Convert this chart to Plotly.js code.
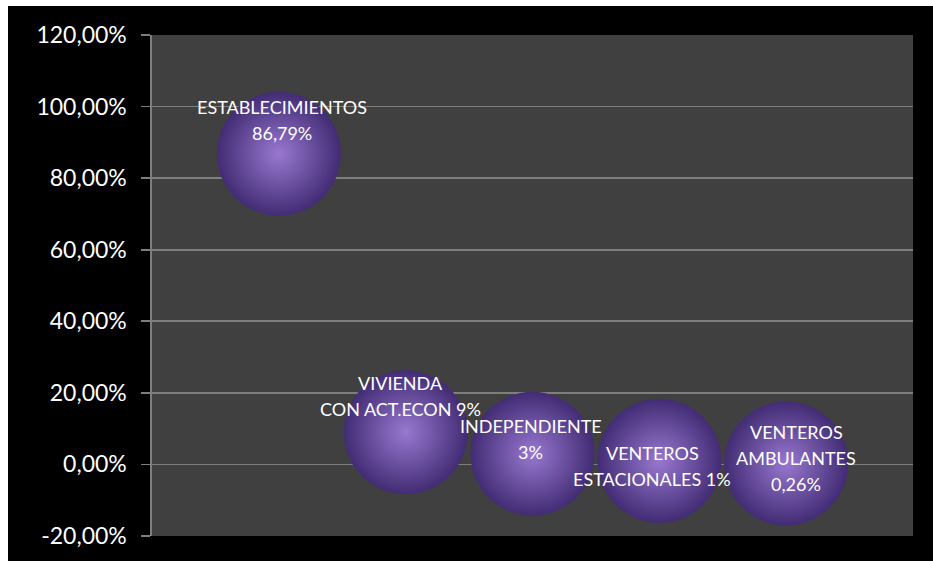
<!DOCTYPE html>
<html>
<head>
<meta charset="utf-8">
<script src="https://cdn.plot.ly/plotly-3.0.1.min.js"></script>
<style>
  html, body { margin: 0; padding: 0; background: #ffffff; }
  #chart { position: absolute; left: 8px; top: 6px; width: 925px; height: 555px; background: #000; }
</style>
</head>
<body>
<div id="chart"></div>
<script>
// ---- data ----
const categories = ['ESTABLECIMIENTOS', 'VIVIENDA CON ACT.ECON', 'INDEPENDIENTE', 'VENTEROS ESTACIONALES', 'VENTEROS AMBULANTES'];
const values = [86.79, 9, 3, 1, 0.26];            // percent
const labelLines = [
  ['ESTABLECIMIENTOS', '86,79%'],
  ['VIVIENDA', 'CON ACT.ECON 9%'],
  ['INDEPENDIENTE', '3%'],
  ['VENTEROS', 'ESTACIONALES 1%'],
  ['VENTEROS', 'AMBULANTES', '0,26%']
];
const tickValues = [-20, 0, 20, 40, 60, 80, 100, 120];
const tickLabels = ['-20,00%', '0,00%', '20,00%', '40,00%', '60,00%', '80,00%', '100,00%', '120,00%'];

// ---- label styling (pixel offsets of each label block relative to its bubble) ----
const labelXShift = [3, -5, -2, -7, 10];
const labelYShift = [34, 36, 15, -5, 6];
const lineStep = 26;

const trace = {
  type: 'scatter',
  mode: 'markers',
  x: categories,
  y: values,
  marker: {
    size: 124,
    color: '#422c74',
    gradient: { type: 'radial', color: '#9878d0' },
    line: { width: 0 }
  },
  hoverinfo: 'skip'
};

const annotations = [];
categories.forEach((c, i) => {
  const lines = labelLines[i];
  const n = lines.length;
  lines.forEach((t, k) => {
    annotations.push({
      x: c, y: values[i], xref: 'x', yref: 'y',
      text: t, showarrow: false,
      xanchor: 'center', yanchor: 'middle',
      xshift: labelXShift[i],
      yshift: labelYShift[i] + ((n - 1) / 2 - k) * lineStep,
      font: { family: 'Lato, "Open Sans", sans-serif', size: 18, color: '#ffffff' }
    });
  });
});

const layout = {
  width: 925, height: 555,
  paper_bgcolor: '#000000',
  plot_bgcolor: '#404040',
  margin: { l: 144, r: 20, t: 29, b: 25, pad: 0 },
  showlegend: false,
  xaxis: {
    type: 'category',
    range: [-1, 5],
    showgrid: false, zeroline: false, showticklabels: false, showline: false, ticks: ''
  },
  yaxis: {
    range: [-20, 120],
    tickmode: 'array', tickvals: tickValues, ticktext: tickLabels,
    showgrid: true, gridcolor: '#7e7e7e', gridwidth: 1.6,
    zeroline: false,
    showline: true, linecolor: '#7e7e7e', linewidth: 1.6,
    ticks: 'outside', ticklen: 9, tickcolor: '#7e7e7e', tickwidth: 1.6,
    ticklabelstandoff: 10,
    tickfont: { family: 'Lato, "Open Sans", sans-serif', size: 23, color: '#ffffff' }
  },
  annotations: annotations
};

Plotly.newPlot('chart', [trace], layout, { displayModeBar: false, staticPlot: true });
</script>
</body>
</html>
